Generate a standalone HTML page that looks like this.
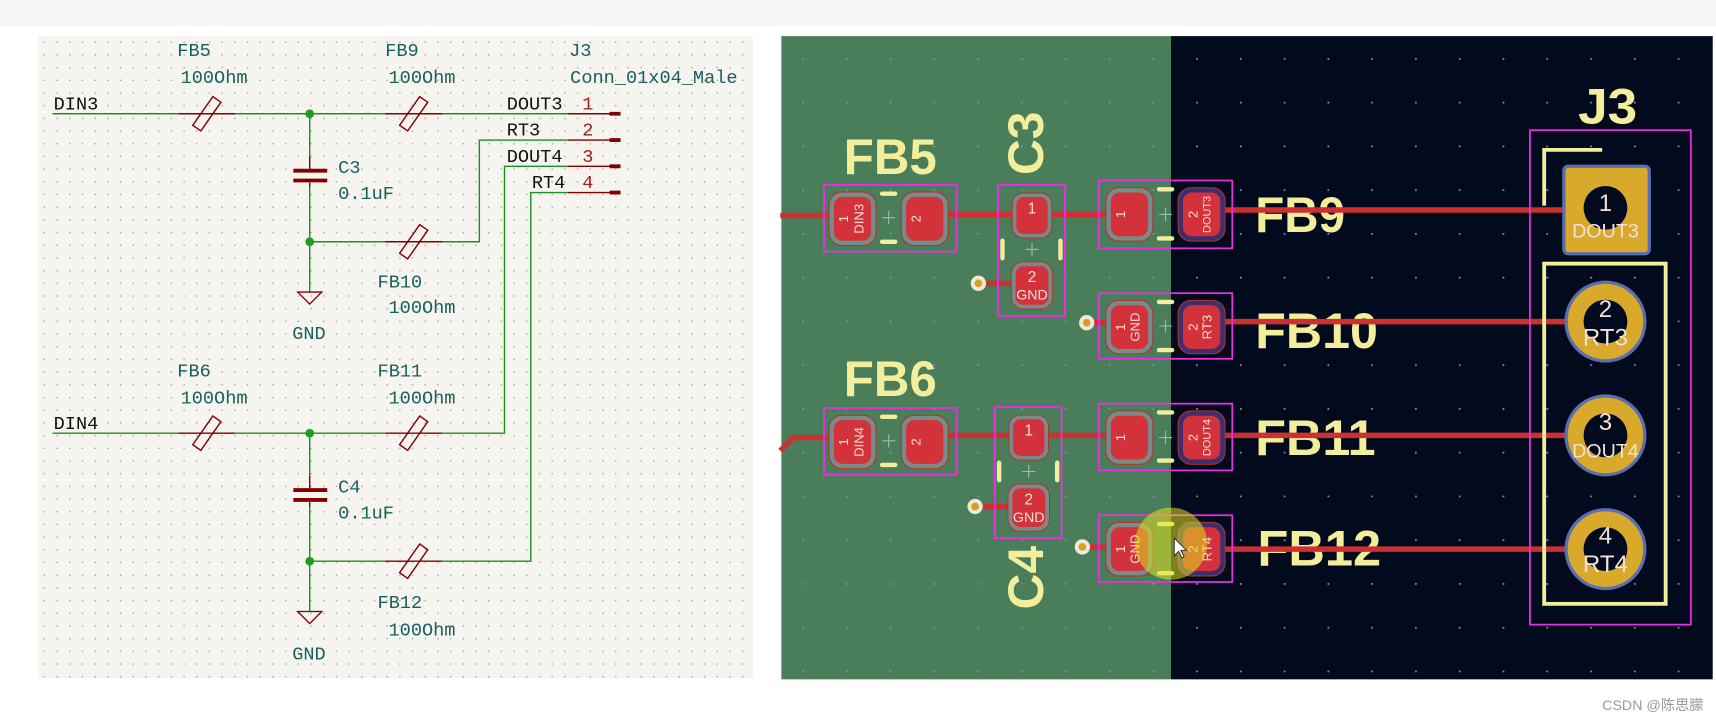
<!DOCTYPE html>
<html><head><meta charset="utf-8"><style>
html,body{margin:0;padding:0;background:#fff;}
svg{display:block;}
.s{font-family:"Liberation Mono",monospace;font-size:17px;}
.pk{font-family:"Liberation Sans",sans-serif;font-weight:bold;fill:#f3ee9c;}
.pt{font-family:"Liberation Sans",sans-serif;fill:#f4e0d8;}
</style></head><body>
<svg width="1716" height="722" viewBox="0 0 1568 660" preserveAspectRatio="none" xmlns="http://www.w3.org/2000/svg">
<defs>
<pattern id="sg" x="35" y="33" width="11.6" height="11.6" patternUnits="userSpaceOnUse"><rect x="5" y="5" width="1.2" height="1.2" fill="#9a9a9a"/></pattern>
<pattern id="pg" x="713" y="33" width="40" height="40" patternUnits="userSpaceOnUse"><rect x="20" y="20" width="1.6" height="1.6" fill="#8090a0"/></pattern>
<symbol id="pad" viewBox="0 0 44 50"><rect x="0.5" y="0.5" width="43" height="49" rx="12" fill="#7a8a88" stroke="#b23030" stroke-width="1"/><rect x="5" y="5" width="34" height="40" rx="8" fill="#d3323a"/></symbol>
<symbol id="padb" viewBox="0 0 44 50"><rect x="0.5" y="0.5" width="43" height="49" rx="12" fill="#3d2f6e" stroke="#b23030" stroke-width="1"/><rect x="5" y="5" width="34" height="40" rx="8" fill="#d3323a"/></symbol>
<g id="res"><rect x="-4.5" y="-16" width="9" height="32" fill="none" stroke="#840000" stroke-width="1.3" transform="rotate(35)"/></g>
</defs>

<rect x="0" y="0" width="1568" height="24" fill="#f6f6f6"/>
<rect x="35" y="33" width="653" height="587" fill="#f5f4ef"/>
<rect x="35" y="33" width="653" height="587" fill="url(#sg)"/>

<g stroke="#1f8f1f" stroke-width="1.3" fill="none">
<path d="M48 104H163M215 104H352M404 104H519"/>
<path d="M283 104V143M283 171V267"/>
<path d="M283 221H352M404 221H438V128H519"/>
<path d="M48 396H163M215 396H352M404 396H461V152H519"/>
<path d="M283 396V435M283 463V559"/>
<path d="M283 513H352M404 513H485V176H519"/>
</g>
<g fill="#1f9f1f"><circle cx="283" cy="104" r="4"/><circle cx="283" cy="221" r="4"/><circle cx="283" cy="396" r="4"/><circle cx="283" cy="513" r="4"/></g>
<g stroke="#840000" stroke-width="1.3" fill="none">
<path d="M163 104H215M352 104H404M352 221H404M163 396H215M352 396H404M352 513H404"/>
<path d="M519 104H567M519 128H567M519 152H567M519 176H567"/>
<path d="M283 143V155M283 167V171M283 435V447M283 459V463"/>
</g>
<g stroke="#840000" stroke-width="3.5"><path d="M557 104H567M557 128H567M557 152H567M557 176H567"/>
<path d="M268 156H299M268 165H299M268 448H299M268 457H299"/></g>
<g fill="#f5f4ef">
<use href="#res" x="189" y="104"/><use href="#res" x="378" y="104"/><use href="#res" x="378" y="221"/>
<use href="#res" x="189" y="396"/><use href="#res" x="378" y="396"/><use href="#res" x="378" y="513"/>
</g>
<g fill="none" stroke="#840000" stroke-width="1.2"><path d="M272 267H294L283 278Z"/><path d="M272 559H294L283 570Z"/></g>

<g class="s" fill="#1a6060">
<text x="162" y="51">FB5</text><text x="165" y="76">100Ohm</text>
<text x="352" y="51">FB9</text><text x="355" y="76">100Ohm</text>
<text x="520" y="51">J3</text><text x="521" y="76">Conn_01x04_Male</text>
<text x="309" y="158">C3</text><text x="309" y="182">0.1uF</text>
<text x="345" y="263">FB10</text><text x="355" y="286">100Ohm</text>
<text x="162" y="344">FB6</text><text x="165" y="369">100Ohm</text>
<text x="345" y="344">FB11</text><text x="355" y="369">100Ohm</text>
<text x="309" y="450">C4</text><text x="309" y="474">0.1uF</text>
<text x="345" y="556">FB12</text><text x="355" y="581">100Ohm</text>
<text x="267" y="310">GND</text><text x="267" y="603">GND</text>
</g>
<g class="s" fill="#111">
<text x="49" y="100">DIN3</text><text x="49" y="392">DIN4</text>
<text x="463" y="100">DOUT3</text><text x="463" y="124">RT3</text>
<text x="463" y="148">DOUT4</text><text x="486" y="172">RT4</text>
</g>
<g class="s" fill="#a02020"><text x="532" y="100">1</text><text x="532" y="124">2</text><text x="532" y="148">3</text><text x="532" y="172">4</text></g>

<rect x="714" y="33" width="356" height="588" fill="#4a7e5a"/>
<rect x="1070" y="33" width="495" height="588" fill="#020b1e"/>
<rect x="714" y="33" width="851" height="588" fill="url(#pg)"/>

<text class="pk" x="771" y="159" font-size="46" textLength="85" lengthAdjust="spacingAndGlyphs">FB5</text>
<text class="pk" x="771" y="362" font-size="46" textLength="85" lengthAdjust="spacingAndGlyphs">FB6</text>
<text class="pk" x="1147" y="212" font-size="46" textLength="82" lengthAdjust="spacingAndGlyphs">FB9</text>
<text class="pk" x="1147" y="318" font-size="46" textLength="112" lengthAdjust="spacingAndGlyphs">FB10</text>
<text class="pk" x="1147" y="416" font-size="46" textLength="110" lengthAdjust="spacingAndGlyphs">FB11</text>
<text class="pk" x="1149" y="517" font-size="46" textLength="113" lengthAdjust="spacingAndGlyphs">FB12</text>
<text class="pk" x="1442" y="113" font-size="46" textLength="54" lengthAdjust="spacingAndGlyphs">J3</text>
<text class="pk" font-size="46" transform="translate(953 160) rotate(-90)" textLength="58" lengthAdjust="spacingAndGlyphs">C3</text>
<text class="pk" font-size="46" transform="translate(953 557) rotate(-90)" textLength="58" lengthAdjust="spacingAndGlyphs">C4</text>

<g stroke="#cc3030" stroke-width="5" fill="none">
<path d="M713 197H779M845 196H1033"/>
<path d="M1098 192H1450"/>
<path d="M993 295H1033M1098 294H1450"/>
<path d="M713 412L725 400H779M845 398H1033"/>
<path d="M1098 398H1450"/>
<path d="M989 500H1033M1098 502H1450"/>
<path d="M894 259H940M891 463H937"/>
</g>
<g><circle cx="894" cy="259" r="7" fill="#eee8d8"/><circle cx="894" cy="259" r="3.5" fill="#d8a020"/>
<circle cx="993" cy="295" r="7" fill="#eee8d8"/><circle cx="993" cy="295" r="3.5" fill="#d8a020"/>
<circle cx="891" cy="463" r="7" fill="#eee8d8"/><circle cx="891" cy="463" r="3.5" fill="#d8a020"/>
<circle cx="989" cy="500" r="7" fill="#eee8d8"/><circle cx="989" cy="500" r="3.5" fill="#d8a020"/></g>

<g fill="none" stroke="#e830e0" stroke-width="1.6">
<rect x="753" y="169" width="121" height="61"/><rect x="1004" y="165" width="122" height="62"/>
<rect x="1004" y="268" width="122" height="60"/><rect x="753" y="373" width="121" height="61"/>
<rect x="1004" y="369" width="122" height="61"/><rect x="1004" y="471" width="122" height="61"/>
<rect x="912" y="169" width="61" height="120"/><rect x="909" y="372" width="61" height="120"/>
</g>
<use href="#pad" x="757" y="175" width="44" height="50"/><use href="#pad" x="823" y="175" width="44" height="50"/>
<use href="#pad" x="1010" y="171" width="44" height="50"/><use href="#padb" x="1076" y="171" width="44" height="50"/>
<use href="#pad" x="1010" y="274" width="44" height="50"/><use href="#padb" x="1076" y="274" width="44" height="50"/>
<use href="#pad" x="757" y="379" width="44" height="50"/><use href="#pad" x="823" y="379" width="44" height="50"/>
<use href="#pad" x="1010" y="375" width="44" height="50"/><use href="#padb" x="1076" y="375" width="44" height="50"/>
<use href="#pad" x="1010" y="477" width="44" height="50"/><use href="#padb" x="1076" y="477" width="44" height="50"/>
<use href="#pad" x="919" y="176" width="48" height="42"/><use href="#pad" x="919" y="239" width="48" height="44"/>
<use href="#pad" x="916" y="379" width="48" height="42"/><use href="#pad" x="916" y="442" width="48" height="44"/>

<g stroke="#f3ee9c" stroke-width="4" stroke-linecap="round">
<path d="M806 177H818M806 221H818M806 381H818M806 425H818"/>
<path d="M1059 173H1071M1059 218H1071M1059 276H1071M1059 320H1071M1059 377H1071M1059 421H1071M1059 479H1071M1059 524H1071"/>
<path d="M916 220V236M969 220V236M913 423V439M966 423V439"/>
</g>
<g stroke="#a8b8a8" stroke-width="1"><path d="M806 199H818M812 193V205M1059 196H1071M1065 190V202M1059 298H1071M1065 292V304M806 403H818M812 397V409M1059 400H1071M1065 394V406M937 228H949M943 222V234M934 431H946M940 425V437"/></g>

<g class="pt" font-size="12" text-anchor="middle">
<text transform="translate(775 200) rotate(-90)">1</text><text transform="translate(789 200) rotate(-90)">DIN3</text>
<text transform="translate(841 200) rotate(-90)">2</text>
<text transform="translate(775 404) rotate(-90)">1</text><text transform="translate(789 404) rotate(-90)">DIN4</text>
<text transform="translate(841 404) rotate(-90)">2</text>
<text transform="translate(1028 196) rotate(-90)">1</text>
<text transform="translate(1094 196) rotate(-90)">2</text><text transform="translate(1106 196) rotate(-90)" font-size="10">DOUT3</text>
<text transform="translate(1028 299) rotate(-90)">1</text><text transform="translate(1041 299) rotate(-90)">GND</text>
<text transform="translate(1094 299) rotate(-90)">2</text><text transform="translate(1107 299) rotate(-90)">RT3</text>
<text transform="translate(1028 400) rotate(-90)">1</text>
<text transform="translate(1094 400) rotate(-90)">2</text><text transform="translate(1106 400) rotate(-90)" font-size="10">DOUT4</text>
<text transform="translate(1028 502) rotate(-90)">1</text><text transform="translate(1041 502) rotate(-90)">GND</text>
<text transform="translate(1094 502) rotate(-90)">2</text><text transform="translate(1107 502) rotate(-90)">RT4</text>
<text x="943" y="195" font-size="14">1</text>
<text x="943" y="258" font-size="14">2</text><text x="943" y="274" font-size="13">GND</text>
<text x="940" y="398" font-size="14">1</text>
<text x="940" y="461" font-size="14">2</text><text x="940" y="477" font-size="13">GND</text>
</g>

<circle cx="1070" cy="497" r="33" fill="#e0e020" opacity="0.55"/>
<path d="M1073 492V508L1077 504L1080 510L1082 509L1079 503H1084Z" fill="#fff" stroke="#222" stroke-width="0.8"/>

<rect x="1398" y="119" width="147" height="452" fill="none" stroke="#e830e0" stroke-width="1.6"/>
<g fill="none" stroke="#f3ee9c" stroke-width="3.5">
<path d="M1411 188V137H1464"/>
<rect x="1411" y="241" width="111" height="311"/>
</g>
<rect x="1429" y="152" width="78" height="80" rx="4" fill="#d9a92c" stroke="#5870b0" stroke-width="3"/>
<circle cx="1467" cy="190" r="20" fill="#020b1e"/>
<g fill="#d9a92c" stroke="#5870b0" stroke-width="3">
<circle cx="1467" cy="294" r="36"/><circle cx="1467" cy="398" r="36"/><circle cx="1467" cy="502" r="36"/></g>
<g fill="#020b1e"><circle cx="1467" cy="294" r="20"/><circle cx="1467" cy="398" r="20"/><circle cx="1467" cy="502" r="20"/></g>
<g class="pt" fill="#f4ecd8" text-anchor="middle" font-size="22">
<text x="1467" y="193">1</text><text x="1467" y="217" font-size="18">DOUT3</text>
<text x="1467" y="290">2</text><text x="1467" y="316">RT3</text>
<text x="1467" y="393">3</text><text x="1467" y="418" font-size="18">DOUT4</text>
<text x="1467" y="497">4</text><text x="1467" y="523">RT4</text>
</g>

<text x="1464" y="649" font-family="'Liberation Sans','Noto Sans CJK SC',sans-serif" font-size="13" fill="#999">CSDN @陈思朦</text>
</svg>
</body></html>
